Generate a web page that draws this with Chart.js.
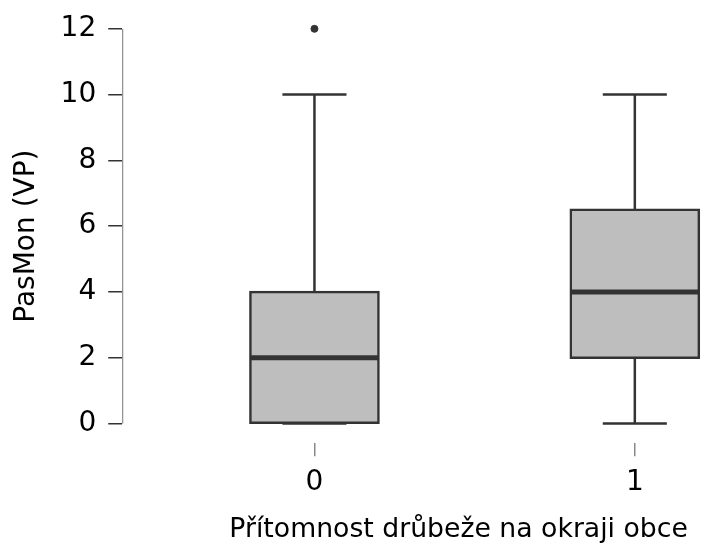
<!DOCTYPE html>
<html>
<head>
<meta charset="utf-8">
<script src="https://cdn.jsdelivr.net/npm/chart.js@4.4.1/dist/chart.umd.min.js"></script>
<style>
  html, body { margin: 0; padding: 0; background: #fff; overflow: hidden; }
  #wrap { width: 800px; height: 546px; }
</style>
</head>
<body>
<div id="wrap"><canvas id="boxChart" width="800" height="546"></canvas></div>
<script>
// Box plot values
const categories = [0, 1];
const categoryLabels = ['0', '1'];
const yTicks = [0, 2, 4, 6, 8, 10, 12];
const whiskerLow = [0, 0];
const q1 = [0, 2];
const median = [2, 4];
const q3 = [4, 6.5];
const whiskerHigh = [10, 10];
const outlierCategory = [0];
const outlierValue = [12];

const BOX_HALF = 0.2;
const CAP_HALF = 0.1;
const INK = '#333333';
const FONT = "'DejaVu Sans', sans-serif";

function segment(points, width, order) {
    return {
        type: 'line',
        data: points,
        borderColor: INK,
        borderWidth: width,
        pointRadius: 0,
        fill: false,
        clip: false,
        order: order
    };
}

const datasets = [];

// boxes (floating bars)
datasets.push({
    type: 'bar',
    data: categories.map((c, i) => ({ x: c, y: [q1[i], q3[i]] })),
    backgroundColor: '#bebebe',
    borderColor: INK,
    borderWidth: 2.5,
    borderSkipped: false,
    inflateAmount: 1.25,
    barPercentage: 1,
    categoryPercentage: BOX_HALF * 2,
    clip: false,
    order: 2
});

categories.forEach((c, i) => {
    // whiskers
    datasets.push(segment([{ x: c, y: q3[i] }, { x: c, y: whiskerHigh[i] }], 2.5, 3));
    datasets.push(segment([{ x: c, y: whiskerLow[i] }, { x: c, y: q1[i] }], 2.5, 3));
    // caps
    datasets.push(segment([{ x: c - CAP_HALF, y: whiskerHigh[i] }, { x: c + CAP_HALF, y: whiskerHigh[i] }], 2.5, 3));
    datasets.push(segment([{ x: c - CAP_HALF, y: whiskerLow[i] }, { x: c + CAP_HALF, y: whiskerLow[i] }], 2.5, 3));
    // median
    datasets.push(segment([{ x: c - BOX_HALF, y: median[i] }, { x: c + BOX_HALF, y: median[i] }], 5, 0));
});

// outliers
datasets.push({
    type: 'scatter',
    data: outlierCategory.map((c, i) => ({ x: c, y: outlierValue[i] })),
    backgroundColor: INK,
    borderColor: INK,
    pointRadius: 3.5,
    clip: false,
    order: 0
});

// y axis line only spanning the tick range
const yAxisLine = {
    id: 'yAxisLine',
    beforeDatasetsDraw(chart) {
        const y = chart.scales.y;
        const ctx = chart.ctx;
        ctx.save();
        ctx.strokeStyle = '#777';
        ctx.lineWidth = 1;
        ctx.beginPath();
        ctx.moveTo(chart.chartArea.left + 0.5, y.getPixelForValue(yTicks[0]));
        ctx.lineTo(chart.chartArea.left + 0.5, y.getPixelForValue(yTicks[yTicks.length - 1]));
        ctx.stroke();
        ctx.restore();
    }
};

new Chart(document.getElementById('boxChart'), {
    data: { datasets: datasets },
    plugins: [yAxisLine],
    options: {
        responsive: false,
        animation: false,
        layout: { padding: { top: 12, left: 10, right: 0, bottom: 0 } },
        plugins: {
            legend: { display: false },
            tooltip: { enabled: false }
        },
        scales: {
            x: {
                type: 'linear',
                offset: false,
                min: -0.6,
                max: 1.5,
                afterBuildTicks: (axis) => { axis.ticks = categories.map(v => ({ value: v })); },
                ticks: {
                    callback: (v) => categoryLabels[categories.indexOf(v)],
                    color: '#000',
                    font: { family: FONT, size: 28 },
                    padding: 10,
                    maxRotation: 0
                },
                grid: { offset: false, drawOnChartArea: false, drawTicks: true, tickLength: 13, color: '#888', lineWidth: 1.5 },
                border: { display: false },
                title: {
                    display: true,
                    text: 'Přítomnost drůbeže na okraji obce',
                    color: '#000',
                    font: { family: FONT, size: 26.7 },
                    padding: { top: 4, bottom: 0 }
                }
            },
            y: {
                min: -0.6,
                max: 12,
                afterBuildTicks: (axis) => { axis.ticks = yTicks.map(v => ({ value: v })); },
                ticks: {
                    color: '#000',
                    font: { family: FONT, size: 28 },
                    padding: 12
                },
                grid: { drawOnChartArea: false, drawTicks: true, tickLength: 14, color: INK, lineWidth: 1.5 },
                border: { display: false },
                title: {
                    display: true,
                    text: 'PasMon (VP)',
                    color: '#000',
                    font: { family: FONT, size: 28 },
                    padding: { top: 0, bottom: 5 }
                }
            }
        }
    }
});
</script>
</body>
</html>
